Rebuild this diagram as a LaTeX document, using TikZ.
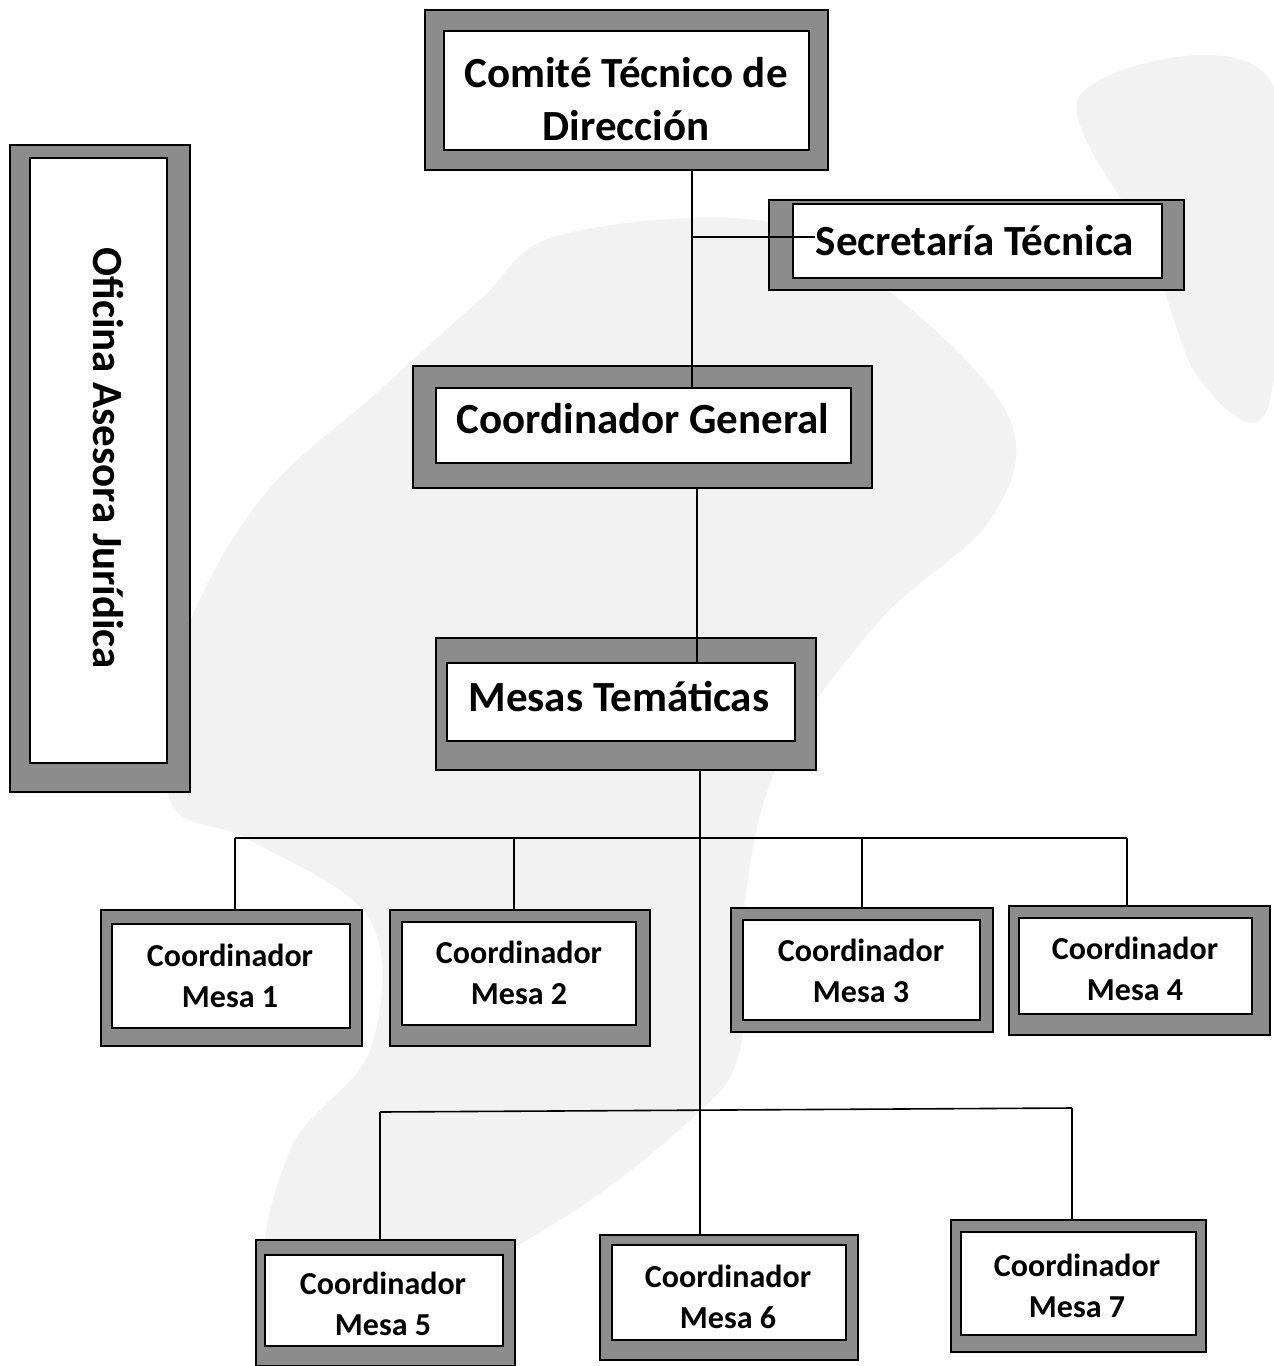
\documentclass[tikz,border=0pt]{standalone}
\usepackage{fontspec}
\setmainfont{Carlito}
\usetikzlibrary{fit}
\tikzset{
  outerbox/.style={draw=black, line width=1pt, fill=black!45, inner sep=0pt},
  innerbox/.style={draw=black, line width=1pt, fill=white, inner sep=0pt},
  bigtext/.style={align=center, inner sep=0pt, anchor=base, font=\bfseries\fontsize{21.5}{26.5}\selectfont},
  smalltext/.style={align=center, inner sep=0pt, anchor=base, font=\bfseries\fontsize{16}{20.5}\selectfont},
  link/.style={draw=black, line width=0.8pt},
  watermark/.style={fill=black!5, draw=none}
}
\begin{document}
\begin{tikzpicture}[x=0.5pt,y=-0.5pt]
\useasboundingbox (0,0) rectangle (1274,1366);
\fill[white] (0,0) rectangle (1274,1366);
% faint scan watermark
\fill[watermark] plot[smooth cycle, tension=0.6] coordinates {(560,235) (770,222) (900,300) (1010,420) (990,520) (880,620) (780,760) (745,900) (740,1050) (690,1120) (560,1220) (400,1300) (270,1290) (290,1150) (370,1050) (370,920) (250,840) (170,800) (180,650) (260,500) (380,390) (480,300)};
\fill[watermark] plot[smooth cycle, tension=0.6] coordinates {(1080,95) (1270,80) (1270,400) (1200,380) (1150,250)};

% boxes (last-line baseline used as anchor)
\node[outerbox, fit={(425,10)(828,170)}] (comO) {};
\node[innerbox, fit={(444,31)(809,150)}] (com) {};
\node[bigtext] (comT) at (626,140) {Comité Técnico de\\Dirección};

\node[outerbox, fit={(769,200)(1184,290)}] (secO) {};
\node[innerbox, fit={(793,204)(1162,278)}] (sec) {};
\node[bigtext] (secT) at (975,255) {Secretaría Técnica};

\node[outerbox, fit={(10,145)(190,792)}] (ofiO) {};
\node[innerbox, fit={(30,158)(167,763)}] (ofi) {};
\node[font=\bfseries\fontsize{21.5}{26.5}\selectfont, rotate=-90, inner sep=0pt] (ofiT) at (108,458) {Oficina Asesora Jurídica};

\node[outerbox, fit={(413,366)(872,488)}] (cgO) {};
\node[innerbox, fit={(436,388)(851,463)}] (cg) {};
\node[bigtext] (cgT) at (643,433) {Coordinador General};

\node[outerbox, fit={(436,638)(816,770)}] (mesO) {};
\node[innerbox, fit={(447,663)(795,741)}] (mes) {};
\node[bigtext] (mesT) at (619,711) {Mesas Temáticas};

\node[outerbox, fit={(101,910)(362,1046)}] (m1O) {};
\node[innerbox, fit={(112,924)(350,1028)}] (m1) {};
\node[smalltext] (m1T) at (230,1007) {Coordinador\\Mesa 1};
\node[outerbox, fit={(390,910)(650,1046)}] (m2O) {};
\node[innerbox, fit={(402,922)(636,1025)}] (m2) {};
\node[smalltext] (m2T) at (519,1004) {Coordinador\\Mesa 2};
\node[outerbox, fit={(731,908)(993,1032)}] (m3O) {};
\node[innerbox, fit={(743,920)(980,1020)}] (m3) {};
\node[smalltext] (m3T) at (861,1002) {Coordinador\\Mesa 3};
\node[outerbox, fit={(1009,906)(1270,1035)}] (m4O) {};
\node[innerbox, fit={(1019,918)(1252,1014)}] (m4) {};
\node[smalltext] (m4T) at (1135,1000) {Coordinador\\Mesa 4};
\node[outerbox, fit={(256,1240)(515,1366)}] (m5O) {};
\node[innerbox, fit={(265,1255)(503,1346)}] (m5) {};
\node[smalltext] (m5T) at (383,1335) {Coordinador\\Mesa 5};
\node[outerbox, fit={(600,1235)(858,1360)}] (m6O) {};
\node[innerbox, fit={(612,1245)(846,1340)}] (m6) {};
\node[smalltext] (m6T) at (728,1328) {Coordinador\\Mesa 6};
\node[outerbox, fit={(951,1220)(1206,1352)}] (m7O) {};
\node[innerbox, fit={(961,1232)(1196,1335)}] (m7) {};
\node[smalltext] (m7T) at (1077,1317) {Coordinador\\Mesa 7};

% connectors
\coordinate (j1) at (692,237);
\draw[link] (692,0 |- comO.south) -- (692,0 |- cg.north);
\draw[link] (j1) -- (815,237);
\draw[link] (697,0 |- cgO.south) -- (697,0 |- mes.north);
\draw[link] (700,0 |- mesO.south) -- (700,0 |- m6O.north);

\coordinate (h1L) at (235,838);
\coordinate (h1R) at (1127,838);
\draw[link] (h1L) -- (h1R);
\draw[link] (h1L) -- (h1L |- m1O.north);
\draw[link] (514,838) -- (514,0 |- m2O.north);
\draw[link] (862,838) -- (862,0 |- m3O.north);
\draw[link] (h1R) -- (h1R |- m4O.north);

\coordinate (h2L) at (380,1112);
\coordinate (h2R) at (1072,1108);
\draw[link] (h2L) -- (h2R);
\draw[link] (h2L) -- (h2L |- m5O.north);
\draw[link] (h2R) -- (h2R |- m7O.north);
\end{tikzpicture}
\end{document}
